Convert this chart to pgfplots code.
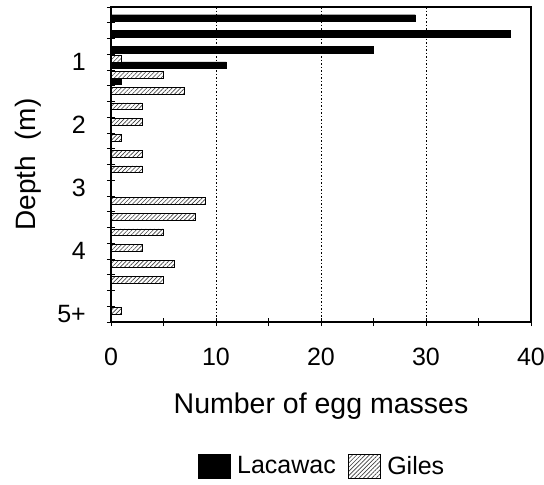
\documentclass[border=0pt]{standalone}
\usepackage{pgfplots}
\pgfplotsset{compat=1.18}
\usepackage{fontspec}
\setmainfont{Liberation Sans}
\usetikzlibrary{patterns.meta}
\begin{document}
\begin{tikzpicture}
\begin{axis}[
  at={(111pt,163pt)}, anchor=south west,
  scale only axis, width=420pt, height=315pt,
  xbar, bar width=0.42,
  xmin=0, xmax=40, ymin=0.5, ymax=20.5, y dir=reverse,
  xtick={0,10,20,30,40}, minor xtick={5,15,25,35},
  ytick={0.5,1.5,...,20.5}, yticklabels={},
  extra y ticks={4,8,12,16,20}, extra y tick labels={1,2,3,4,5+},
  extra y tick style={major tick length=0pt},
  major tick length=8pt, minor tick length=8pt,
  tick align=center, tick pos=left,
  xmajorgrids, major x grid style={black, line width=0.9pt, dash pattern=on 1.5pt off 2pt},
  axis line style={line width=1.1pt},
  tick style={line width=0.9pt, black},
  /pgf/number format/assume math mode=true,
  ticklabel style={font=\fontsize{25}{29}\selectfont, inner sep=0pt},
  xticklabel style={yshift=-22pt},
  yticklabel style={xshift=-25pt},
  xlabel={Number of egg masses},
  ylabel={Depth\ \ (m)},
  every axis x label/.style={at={(rel axis cs:0.5,0)}, anchor=north, yshift=-71pt, inner sep=0pt, font=\fontsize{28.5}{32}\selectfont},
  every axis y label/.style={at={(rel axis cs:0,0.5)}, xshift=-83pt, rotate=90, anchor=center, inner sep=0pt, font=\fontsize{28}{32}\selectfont},
  legend columns=2,
  legend style={at={(rel axis cs:0.5,0)}, anchor=center, yshift=-144pt, draw=none, fill=none,
    inner sep=0pt, nodes={inner sep=0pt},
    font=\fontsize{25}{29}\selectfont,
    /tikz/every odd column/.append style={column sep=7pt},
    /tikz/every even column/.append style={column sep=12pt}},
  legend image code/.code={\draw[#1] (0pt,-12pt) rectangle (32pt,12pt);},
]
\addplot[fill=black, draw=black, bar shift=0.2] coordinates {
  (29,1) (38,2) (25,3) (11,4) (1,5)
};
\addlegendentry{Lacawac}
\addplot[draw=black, fill=white, bar shift=-0.2,
  postaction={pattern={Lines[angle=45, distance=3pt, line width=0.6pt]}, pattern color=black!75}] coordinates {
  (1,4) (5,5) (7,6) (3,7) (3,8) (1,9) (3,10) (3,11) (9,13) (8,14) (5,15) (3,16) (6,17) (5,18) (1,20)
};
\addlegendentry{Giles}
\end{axis}
\pgfresetboundingbox
\path (0pt,0pt) rectangle (544pt,485pt);
\end{tikzpicture}
\end{document}
